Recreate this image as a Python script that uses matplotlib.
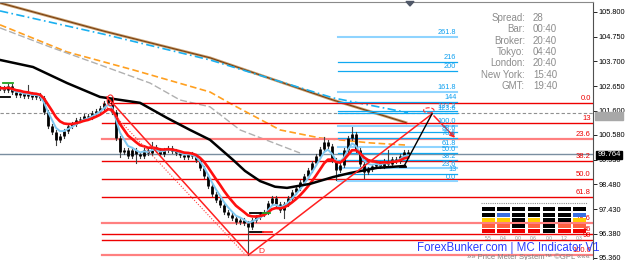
import numpy as np
import matplotlib
matplotlib.use('Agg')
import matplotlib.pyplot as plt
from matplotlib.patches import Rectangle, Ellipse, Polygon

plt.rcParams['font.family'] = ['Liberation Sans', 'DejaVu Sans']

# ── price data (one close per bar, oldest first) ───────────────────────────────
closes = [
    102.57, 102.49, 102.66, 102.40, 102.27, 102.36, 102.23, 102.32, 102.19, 102.27,
    102.15, 101.55, 100.96, 100.70, 100.37, 100.53, 100.75, 100.96, 101.04, 101.21,
    101.26, 101.38, 101.34, 101.51, 101.60, 101.72, 101.94, 102.10, 101.55, 100.45,
    99.86, 99.94, 99.69, 99.94, 99.77, 99.69, 99.94, 99.81, 100.07, 99.94,
    99.77, 99.94, 100.03, 99.90, 99.81, 99.73, 99.64, 99.77, 99.69, 99.52,
    99.18, 98.84, 98.41, 98.07, 97.82, 97.61, 97.31, 97.18, 97.05, 96.88,
    96.97, 96.84, 96.67, 96.97, 97.10, 97.22, 97.31, 97.69, 97.90, 97.65,
    97.39, 97.65, 97.90, 98.16, 98.33, 98.58, 98.84, 99.09, 99.39, 99.69,
    99.98, 100.28, 100.11, 99.52, 99.09, 99.30, 99.94, 100.45, 100.62, 99.94,
    99.35, 99.01, 99.13, 99.26, 99.39, 99.26, 99.47, 99.35, 99.56, 99.47,
    99.69, 99.86, 99.76,
]
spike_highs = {7: 102.70, 38: 100.28, 81: 100.49, 88: 100.92, 97: 99.94}
spike_lows = {14: 100.15, 30: 99.64, 34: 99.39, 62: 95.50, 71: 97.05, 84: 98.67, 91: 98.75}

# long moving averages (bar, price)
ma_black_x = [0, 8.25, 16.75, 25, 35, 41.75, 47.5, 52.5, 58.25, 61.25, 65, 68.75, 71.75, 77.5, 83.25, 87.5, 94.25, 101.25]
ma_black_y = [103.76, 103.46, 102.78, 102.19, 101.94, 101.30, 100.79, 100.37, 99.52, 99.05, 98.62, 98.38, 98.33, 98.50, 98.79, 98.96, 99.18, 99.26]
ma_brown_x = [0, 26, 52.5, 83.25, 101.5]
ma_brown_y = [106.18, 104.98, 103.85, 102.06, 101.10]
ma_sky_x = [0, 26, 52.5, 83.25, 102]
ma_sky_y = [105.84, 104.85, 103.76, 102.15, 101.52]
ma_orange_x = [0, 16.75, 33.25, 52.5, 58.25, 70, 80, 92.5, 101.25]
ma_orange_y = [105.25, 104.10, 103.34, 102.40, 101.85, 100.79, 100.45, 100.24, 100.15]
ma_grey_x = [0, 12.5, 25, 37.5, 45, 52.5, 60, 75]
ma_grey_y = [105.12, 104.31, 103.55, 102.78, 102.06, 101.77, 100.79, 99.81]

# zigzag swing points
swing_x = [26.75, 62.25, 108.0]
swing_y = [102.19, 95.50, 101.47]
target_x, target_y = 114.25, 100.37
proj_x = [101.0, 108.0]
proj_y = [99.25, 101.47]

# fibonacci retracement (red) and extension (blue)
fib_hi, fib_lo = 101.93, 95.48
fib_levels = [0, 13, 23.6, 38.2, 50, 61.8, 78.6, 86, 90, 100]
fib_labels = ['0.0', '13', '23.6', '38.2', '50.0', '61.8', '78.6', '86', '90', '100.0']
ext_base, ext_top = 98.62, 100.96
ext_levels = [0, 13, 23.6, 38.2, 50, 61.8, 78.6, 88.6, 100, 123.6, 127.2, 144, 161.8, 200, 216, 261.8]
ext_labels = ['0.0', '13', '23.6', '38.2', '50.0', '61.8', '78.6', '88.6', '100.0', '123.6', '127.2',
              '144', '161.8', '200', '216', '261.8']

bid_line = 101.51
last_price = 99.764
price_ticks = [105.80, 104.75, 103.70, 102.65, 101.60, 100.58, 99.53, 98.48, 97.43, 96.38, 95.36]

info_keys = ['Spread:', 'Bar:', 'Broker:', 'Tokyo:', 'London:', 'New York:', 'GMT:']
info_vals = ['28', '00:40', '20:40', '04:40', '20:40', '15:40', '19:40']

K, B, Y, O, R = '#000000', '#3a6fe0', '#ffcc00', '#ff6040', '#ee0000'
meter = [
    [K, K, K, K, K, K, K],
    [K, B, K, K, K, K, B],
    [Y, Y, K, Y, K, K, Y],
    [O, O, K, O, K, O, O],
    [R, R, R, R, K, R, R],
]
meter_vals = ['5.5', '0.4', '0.0', '0.6', '0.0', '1.2', '0.3']


def ema(vals, n):
    a = 2.0 / (n + 1)
    out = [vals[0]]
    for v in vals[1:]:
        out.append(out[-1] + a * (v - out[-1]))
    return out


# ── figure ─────────────────────────────────────────────────────────────────────
W, H = 625, 260
fig = plt.figure(figsize=(W / 100, H / 100), dpi=100, facecolor='white')
ax = fig.add_axes([0, 0, 593 / W, 1 - 1.5 / H])
ax.set_xlim(0, 148.25)
ax.set_ylim(95.27, 106.24)
ax.set_facecolor('white')
for s in ['left', 'bottom']:
    ax.spines[s].set_visible(False)
ax.spines['top'].set_color('#8a8a8a')
ax.spines['right'].set_color('#505050')
ax.set_xticks([])
ax.yaxis.tick_right()
ax.set_yticks(price_ticks)
ax.set_yticklabels([f'{t:.3f}' for t in price_ticks])
ax.tick_params(axis='y', direction='out', length=3, width=0.6, pad=1, labelsize=5.3, colors='black')

# long MAs
ax.plot(ma_brown_x, ma_brown_y, color='#c8a070', lw=2.0, zorder=2)
ax.plot(ma_brown_x, ma_brown_y, color='#7a3f10', lw=0.8, zorder=2)
ax.plot(ma_sky_x, ma_sky_y, color='#1ab0f0', lw=1.2, ls=(0, (5, 2, 1, 2)), zorder=2)
ax.plot(ma_orange_x, ma_orange_y, color='#ffa020', lw=1.2, ls=(0, (4, 2)), zorder=2)
ax.plot(ma_grey_x, ma_grey_y, color='#b0b0b0', lw=1.0, ls=(0, (5, 2)), zorder=2)

# horizontal price lines
ax.axhline(bid_line, color='#909090', lw=0.8, ls=(0, (3, 2)), zorder=1)
ax.axhline(last_price, color='#7a8ea0', lw=1.0, zorder=1)

# red retracement levels
for lv, lab in zip(fib_levels, fib_labels):
    p = fib_hi - lv / 100 * (fib_hi - fib_lo)
    light = lv in (23.6, 78.6, 100)
    ax.plot([27.5 if lv == 0 else 25.5, 148.25], [p, p], color='#ff8080' if light else '#ee0000',
            lw=1.6 if light else 1.0, zorder=2)
    ax.text(147.7, p + 0.03, lab, ha='right', va='bottom', fontsize=5.5, color='#ee0000', zorder=6)

# blue extension levels
for lv, lab in zip(ext_levels, ext_labels):
    p = ext_base + lv / 100 * (ext_top - ext_base)
    light = lv in (261.8, 161.8, 100, 61.8, 23.6, 0)
    ax.plot([84.5, 114.25], [p, p], color='#8fd4ff' if light else '#10a8f0',
            lw=1.5 if light else 0.9, zorder=2)
    ax.text(114.1, p + 0.02, lab, ha='right', va='bottom', fontsize=5.3, color='#10a0f0', zorder=6)

# candles
for i, c in enumerate(closes):
    o = closes[i - 1] if i else c
    hi = spike_highs.get(i, max(o, c) + 0.08)
    lo = spike_lows.get(i, min(o, c) - 0.08)
    ax.plot([i, i], [lo, hi], color='#404040', lw=0.8, zorder=3)
    b0, b1 = min(o, c), max(o, c)
    if b1 - b0 < 0.04:
        b1 = b0 + 0.04
    ax.plot([i, i], [b0, b1], color='black', lw=2.0, solid_capstyle='butt', zorder=3)

# fast MAs
bars = np.arange(len(closes))
ax.plot(bars, ema(closes, 4), color='#80c8f0', lw=1.4, zorder=4)
ax.plot(bars, ema(closes, 8), color='#ff1010', lw=1.9, zorder=4)
ax.plot(ma_black_x, ma_black_y, color='black', lw=1.8, zorder=4)

# zigzag and projection
ax.plot(swing_x, swing_y, color='#ff2020', lw=1.1, zorder=5)
ax.plot([swing_x[0] - 1, swing_x[1] - 1.2], [swing_y[0] - 0.25, swing_y[1] + 0.05],
        color='#ff4040', lw=0.8, ls=(0, (1, 1.5)), zorder=5)
ax.annotate('', xy=(target_x, target_y), xytext=(swing_x[2], swing_y[2]),
            arrowprops=dict(arrowstyle='-|>', color='#ff2020', lw=1.1, mutation_scale=7), zorder=5)
ax.plot(proj_x, proj_y, color='black', lw=1.0, zorder=5)
ax.add_patch(Ellipse((107.2, 101.62), 2.6, 0.22, fill=False, ec='#ff3030', lw=0.8, ls='--', zorder=5))
ax.add_patch(Ellipse((27.6, 102.05), 1.6, 0.45, fill=False, ec='#ff3030', lw=0.8, zorder=5))

# support/resistance ticks
for x0, x1, p, col in [(0.75, 3.25, 102.78, '#20a020'), (0, 2.5, 102.19, 'black'),
                       (62.5, 65.75, 97.27, 'black'), (65.75, 67.5, 97.27, '#20a020'),
                       (62.5, 65.75, 96.46, 'black'), (65.75, 68.0, 96.46, '#ff2020'),
                       (100, 101.5, 99.22, 'black')]:
    ax.plot([x0, x1], [p, p], color=col, lw=1.3, zorder=5)
ax.text(65.3, 95.62, 'D', color='#ff2020', fontsize=6, ha='center', va='center', zorder=5)

# ── overlay in pixel units ─────────────────────────────────────────────────────
ov = fig.add_axes([0, 0, 1, 1], zorder=10)
ov.set_xlim(0, W)
ov.set_ylim(H, 0)
ov.axis('off')
ov.patch.set_alpha(0)

ov.add_patch(Polygon([(406, 1.5), (414, 1.5), (410, 6)], closed=True, color='#505868'))

for k, (key, val) in enumerate(zip(info_keys, info_vals)):
    y = 18 + k * 11.3
    ov.text(525, y, key, ha='right', va='center', fontsize=7, color='#8c8c8c')
    ov.text(533, y, val, ha='left', va='center', fontsize=7, color='#8c8c8c')

# price boxes on the axis
ov.add_patch(Rectangle((595, 111.5), 28, 8, color='#a8a8a8', zorder=1))
ov.text(609, 155, f'{last_price:.3f}', ha='center', va='center', fontsize=5.5, color='white',
        bbox=dict(boxstyle='square,pad=0.12', fc='black', ec='black'))

# price meter
ov.plot([481, 587], [203, 203], color='#909090', lw=0.8, ls=(0, (1, 1)))
for r, row in enumerate(meter):
    for j, col in enumerate(row):
        ov.add_patch(Rectangle((482 + j * 15.2, 207.3 + r * 5.5), 12.5, 3.8, color=col, lw=0))
for j, v in enumerate(meter_vals):
    ov.text(488 + j * 15.2, 238, v, ha='center', va='center', fontsize=3.5, color='#909090')

ov.text(508, 248, 'ForexBunker.com | MC Indicator V1', ha='center', va='center',
        fontsize=8.3, color='#2a3cff')
ov.text(528, 257, '»» Price Meter System™ ©GPL «««', ha='center', va='center',
        fontsize=5.5, color='#808080')

fig.savefig('out.png', dpi=100, facecolor='white')
plt.close(fig)
